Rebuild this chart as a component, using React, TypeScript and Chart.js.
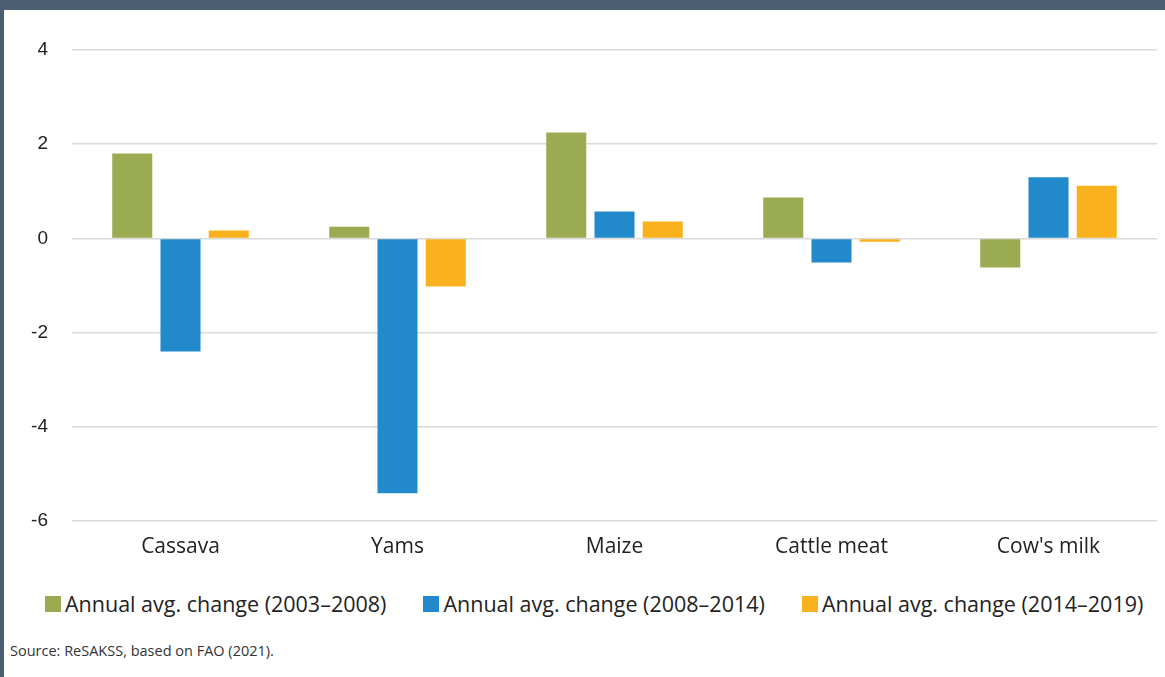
import React, { useEffect, useRef } from "react";
import { Chart, registerables } from "chart.js";

Chart.register(...registerables);

const categories = ["Cassava", "Yams", "Maize", "Cattle meat", "Cow's milk"];
const seriesLabels = [
  "Annual avg. change (2003–2008)",
  "Annual avg. change (2008–2014)",
  "Annual avg. change (2014–2019)",
];
const change2003_2008 = [1.8, 0.25, 2.25, 0.87, -0.62];
const change2008_2014 = [-2.4, -5.41, 0.57, -0.51, 1.3];
const change2014_2019 = [0.17, -1.02, 0.36, -0.07, 1.12];
const seriesColors = ["#9AAB52", "#228ACB", "#F9B11D"];
const yMin = -6;
const yMax = 4;
const yStep = 2;

const FONT = "'Open Sans', 'Liberation Sans', sans-serif";

export default function App() {
  const canvasRef = useRef<HTMLCanvasElement | null>(null);

  useEffect(() => {
    if (!canvasRef.current) return;
    const seriesValues = [change2003_2008, change2008_2014, change2014_2019];
    const chart = new Chart(canvasRef.current, {
      type: "bar",
      data: {
        labels: categories,
        datasets: seriesValues.map((vals, i) => ({
          label: seriesLabels[i],
          data: vals,
          backgroundColor: seriesColors[i],
          borderWidth: 0,
          categoryPercentage: 0.667,
          barPercentage: 0.83,
        })),
      },
      options: {
        animation: false,
        responsive: false,
        maintainAspectRatio: false,
        layout: { padding: { top: 40, right: 8, left: 0, bottom: 0 } },
        plugins: {
          legend: { display: false },
          tooltip: { enabled: false },
        },
        scales: {
          x: {
            grid: { display: false, drawTicks: false },
            border: { display: false },
            ticks: {
              color: "#222222",
              font: { family: FONT, size: 21 },
              padding: 13,
            },
            afterFit: (scale: any) => {
              scale.height = 45;
            },
          },
          y: {
            min: yMin,
            max: yMax,
            ticks: {
              stepSize: yStep,
              color: "#222222",
              font: { family: "'Liberation Sans', Arial, sans-serif", size: 19 },
              padding: 24,
            },
            grid: { color: "#d9d9d9", lineWidth: 1.5, drawTicks: false },
            border: { display: false },
            afterFit: (scale: any) => {
              scale.width = 68;
            },
          },
        },
      },
    });
    return () => chart.destroy();
  }, []);

  return (
    <div
      style={{
        position: "fixed",
        left: 0,
        top: 0,
        width: 1165,
        height: 677,
        background: "#ffffff",
        overflow: "hidden",
        fontFamily: FONT,
      }}
    >
      <div style={{ position: "absolute", left: 0, top: 0, width: 1165, height: 10, background: "#4A5F73" }} />
      <div style={{ position: "absolute", left: 0, top: 0, width: 4, height: 677, background: "#4A5F73" }} />
      <canvas
        ref={canvasRef}
        width={1161}
        height={556}
        style={{ position: "absolute", left: 4, top: 10, width: 1161, height: 556 }}
      />
      <div
        style={{
          position: "absolute",
          left: 45,
          top: 589,
          display: "flex",
          alignItems: "center",
          fontSize: 21.5,
          lineHeight: "30px",
          color: "#222222",
          whiteSpace: "nowrap",
        }}
      >
        {seriesLabels.map((lab, i) => (
          <div key={lab} style={{ display: "flex", alignItems: "center", marginRight: 37 }}>
            <span style={{ display: "inline-block", width: 16, height: 16, background: seriesColors[i], marginRight: 4 }} />
            <span>{lab}</span>
          </div>
        ))}
      </div>
      <div
        style={{
          position: "absolute",
          left: 10,
          top: 641,
          fontSize: 14.5,
          color: "#333333",
        }}
      >
        Source: ReSAKSS, based on FAO (2021).
      </div>
    </div>
  );
}
